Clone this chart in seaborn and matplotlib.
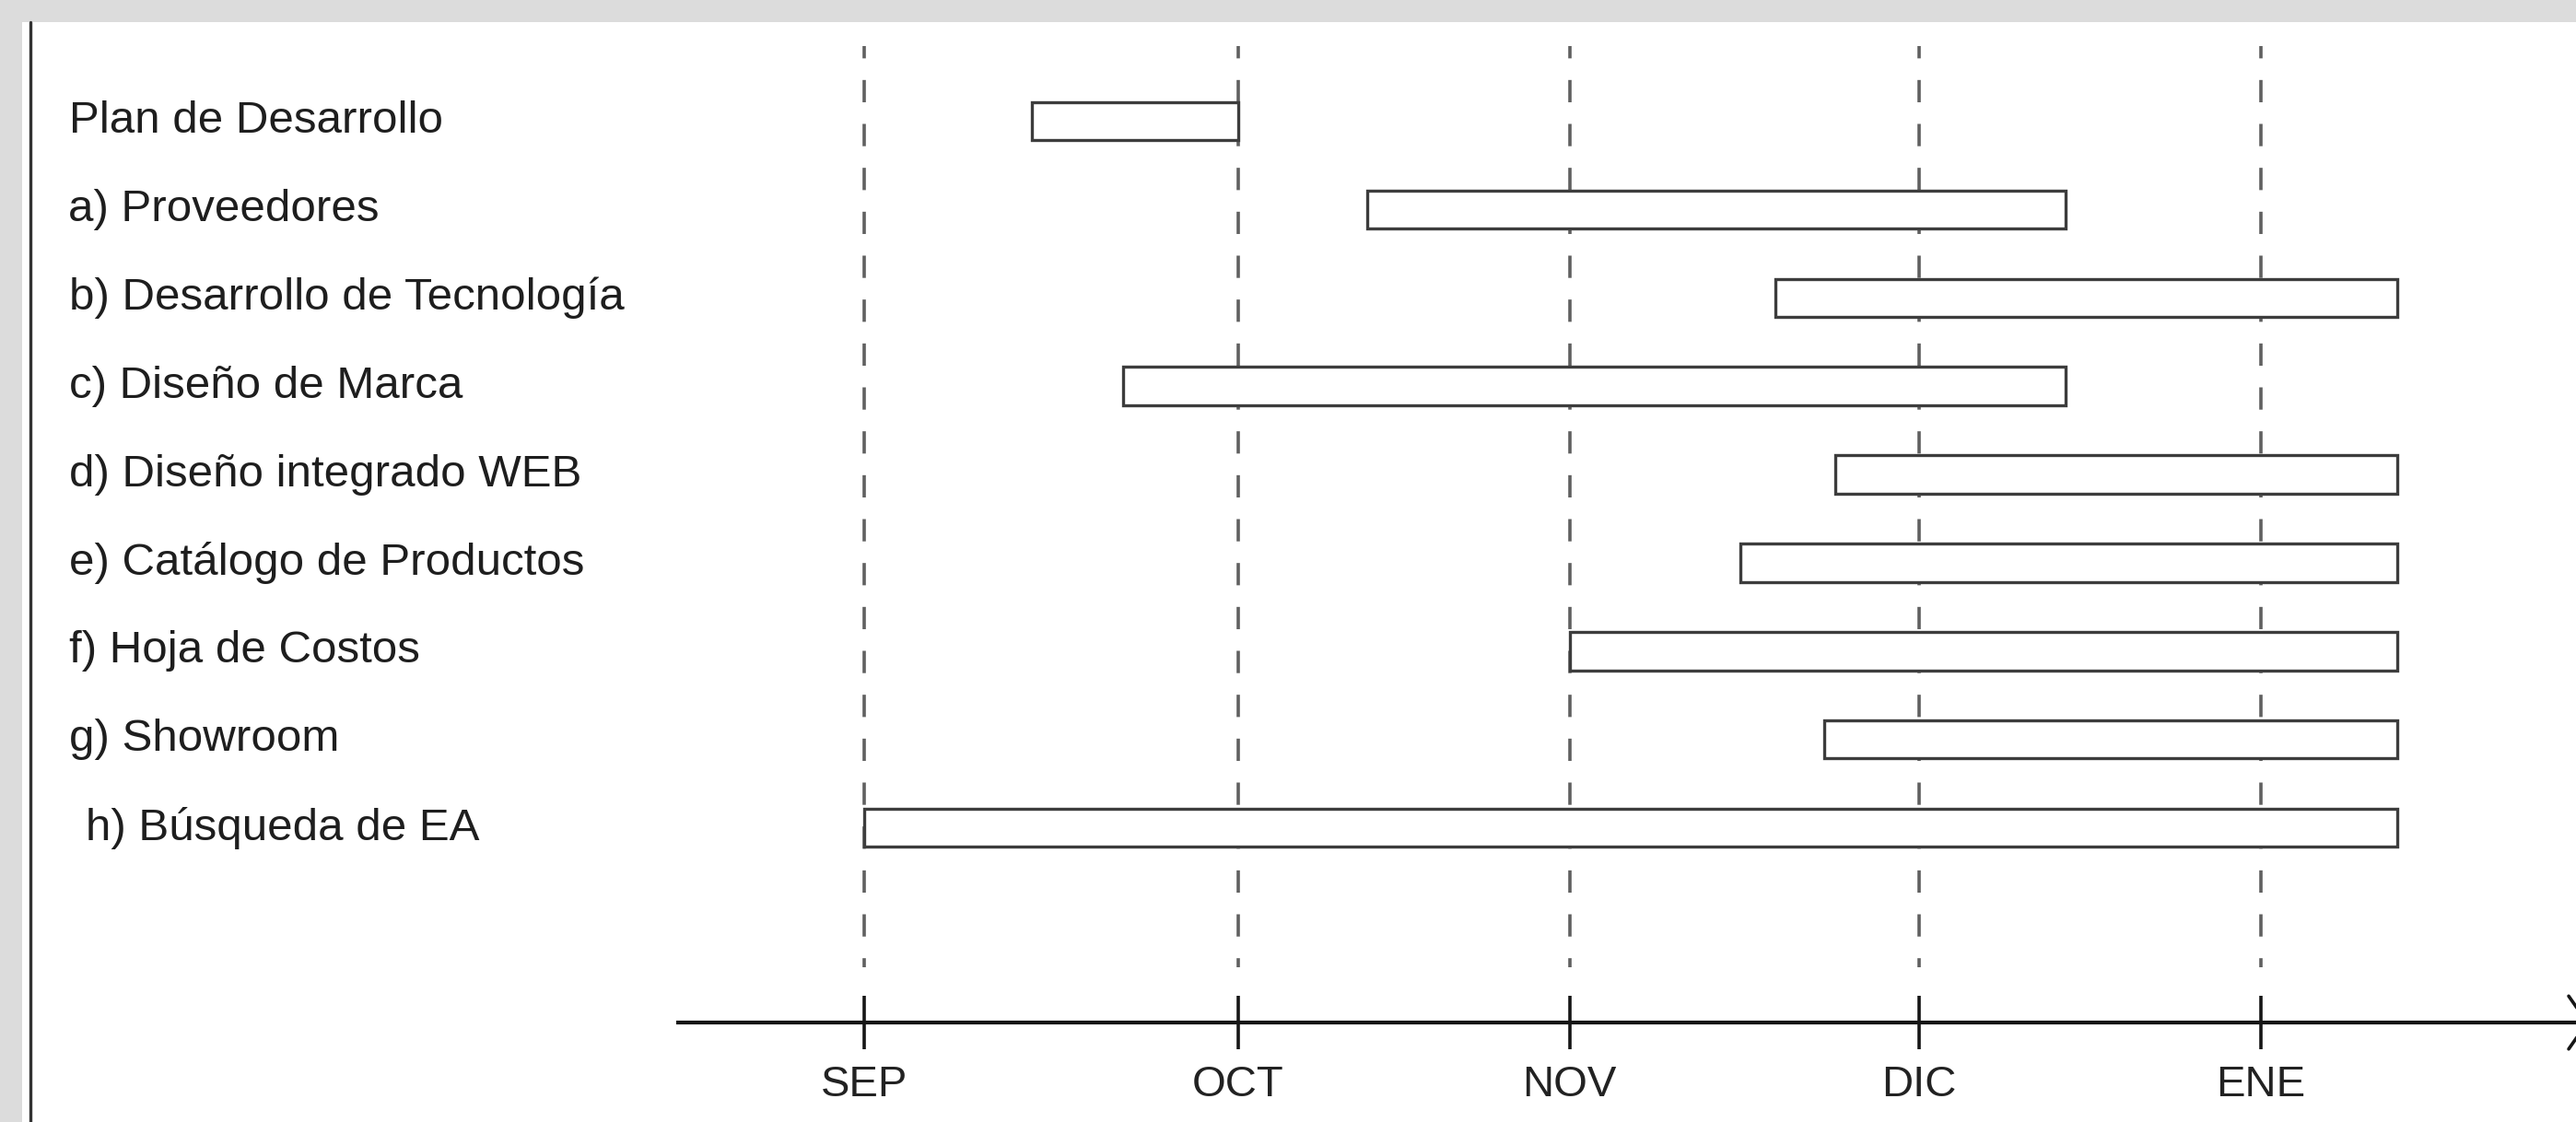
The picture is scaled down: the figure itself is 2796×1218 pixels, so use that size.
import matplotlib
matplotlib.use("Agg")
import matplotlib.pyplot as plt
import matplotlib.transforms as mtransforms
from matplotlib.patches import Rectangle
from matplotlib.lines import Line2D
import seaborn as sns
import pandas as pd

# ---------------- data ----------------
tasks = [
    "Plan de Desarrollo",
    "a) Proveedores",
    "b) Desarrollo de Tecnología",
    "c) Diseño de Marca",
    "d) Diseño integrado WEB",
    "e) Catálogo de Productos",
    "f) Hoja de Costos",
    "g) Showroom",
    "h) Búsqueda de EA",
]
months = ["SEP", "OCT", "NOV", "DIC", "ENE"]
month_pos = [0.0, 1.07, 2.02, 3.02, 4.0]          # month marks on the time axis (month units)
task_start = [0.48, 1.44, 2.61, 0.74, 2.78, 2.51, 2.02, 2.75, 0.00]
task_end = [1.07, 3.44, 4.39, 3.44, 4.39, 4.39, 4.39, 4.39, 4.39]

df = pd.DataFrame({"task": tasks, "start": task_start, "end": task_end})
df["dur"] = df["end"] - df["start"]

# ---------------- figure ----------------
W, H, DPI = 2796, 1218, 100
sns.set_theme(style="white")
plt.rcParams["font.family"] = ["Liberation Sans", "DejaVu Sans"]

fig = plt.figure(figsize=(W / DPI, H / DPI), dpi=DPI, facecolor="#dcdcdc")
ax = fig.add_axes([0, 0, 1, 1])
ax.patch.set_visible(False)

# white page + dark left rule
fig.add_artist(Rectangle((24 / W, 0), 1 - 24 / W, (H - 24) / H, transform=fig.transFigure,
                         facecolor="white", edgecolor="none", zorder=-10))
fig.add_artist(Line2D([33 / W, 33 / W], [0, (H - 24) / H], transform=fig.transFigure,
                      color="#333333", lw=2.4, zorder=-5))

# bars
sns.barplot(data=df, x="dur", y="task", orient="h", color="white", saturation=1,
            edgecolor="#3d3d3d", linewidth=2.4, width=0.433, errorbar=None, ax=ax, zorder=3)
for patch, s in zip(ax.patches, df["start"]):
    patch.set_x(s)

# dashed month guides
ax.vlines(month_pos, -0.85, 9.58, colors="#606060", lw=2.6,
          linestyles=[(3.0, (6.7, 6.5))], zorder=1)

# limits
ax.set_xlim(-2.475, 4.902)
ax.set_ylim(11.332, -1.3716)

# time axis
for s in ["top", "right", "left"]:
    ax.spines[s].set_visible(False)
ax.spines["bottom"].set_position(("data", 10.206))
ax.spines["bottom"].set_bounds(-0.533, 4.902)
ax.spines["bottom"].set_linewidth(3.0)
ax.spines["bottom"].set_color("#161616")
ax.set_yticks([])
ax.set_ylabel("")
ax.set_xlabel("")
ax.set_xticks(month_pos, months)
ax.tick_params(axis="x", direction="inout", length=41.8, width=2.6, color="#161616",
               pad=12.5, labelsize=34, labelcolor="#222222", bottom=True)

# arrow head at right end
ax.plot([4.881, 4.934, 4.881], [10.206 - 0.30, 10.206, 10.206 + 0.30],
        color="#161616", lw=2.6, clip_on=False, solid_joinstyle="miter")

# task labels
label_x_px = [75, 74, 75, 75, 75, 75, 75, 75, 93]
tr = mtransforms.blended_transform_factory(fig.transFigure, ax.transData)
for i, (t, xp) in enumerate(zip(tasks, label_x_px)):
    ax.text(xp / W, i, t, transform=tr, ha="left", va="center", fontsize=35.5, color="#1e1e1e")

fig.savefig("out.png", dpi=DPI)
